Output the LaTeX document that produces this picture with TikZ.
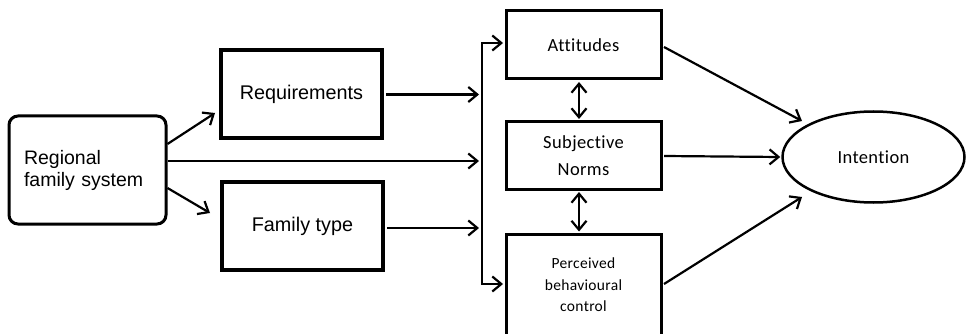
\documentclass[tikz,border=0pt]{standalone}
\usepackage{fontspec}
\newfontfamily\arialfont{Liberation Sans}
\newfontfamily\califont[Ligatures=NoCommon,LetterSpace=2]{Carlito}
\usetikzlibrary{arrows.meta,shapes.geometric,calc}
\begin{document}
\begin{tikzpicture}[x=1pt,y=-1pt,
  arr/.style={line width=2.2pt,-{Straight Barb[length=9pt,width=15pt]}},
  darr/.style={line width=2.2pt,{Straight Barb[length=9pt,width=15pt]}-{Straight Barb[length=9pt,width=15pt]}},
  leftbox/.style={draw,line width=4pt,minimum width=161pt,minimum height=88pt,font=\arialfont\fontsize{19.8}{22}\selectfont,align=center},
  rightbox/.style={draw,line width=3pt,minimum width=155pt,font=\califont\fontsize{18.5}{27}\selectfont,align=center}]
\useasboundingbox (0,0) rectangle (966,334);
\clip (0,0) rectangle (966,334);
\fill[white] (0,0) rectangle (966,334);
% source and mediators
\node[draw,line width=3pt,rounded corners=9pt,minimum width=157pt,minimum height=108pt,
      font=\arialfont\fontsize{19.5}{22}\selectfont,align=left,text width=127pt] (reg) at (87.5,170)
      {Regional\\family system};
\node[leftbox] (req) at (301.5,94.5) {Requirements};
\node[leftbox] (fam) at (302.5,226) {Family type};
% theory of planned behaviour constructs
\node[rightbox,minimum height=68pt] (att) at (583.5,45) {Attitudes};
\node[rightbox,minimum height=67pt] (sn) at (583.5,155.5) {Subjective\\Norms};
\node[rightbox,minimum height=108pt,anchor=north] (pbc) at (583.5,233) {};
\node[font=\califont\fontsize{15.5}{21.5}\selectfont,align=center] (pbct) at (583.5,285) {Perceived\\behavioural\\control};
\node[draw,ellipse,line width=2.5pt,minimum width=182pt,minimum height=91pt,
      font=\califont\fontsize{18.5}{22}\selectfont] (int) at (873.5,157) {Intention};
% collecting bar
\coordinate (bt) at (482,43);
\coordinate (bb) at (482,284);
\draw[darr,line join=miter] ($(bt-|att.west)+(-1.5,0)$) -- (bt) -- (bb) -- ($(bb-|pbc.west)+(-1.5,0)$);
% arrows into the bar
\draw[arr] ($(req.east)+(2,0)$) -- ($(req.east-|bt)+(-3,0)$);
\draw[arr] ($(reg.east)+(0,-9)$) -- ($(reg.east-|bt)+(-3,-9)$);
\draw[arr] ($(fam.east)+(2,2)$) -- ($(fam.east-|bt)+(-3,2)$);
% arrows from the regional family system
\draw[arr] ($(reg.east)+(0,-26)$) -- ($(req.west)+(-4,18.5)$);
\draw[arr] ($(reg.east)+(0,18)$) -- ($(fam.west)+(-10,-13)$);
% links between constructs
\draw[darr] ($(att.south)+(-4.5,1.5)$) -- ($(sn.north)+(-4.5,-1.5)$);
\draw[darr] ($(sn.south)+(-4.5,1.5)$) -- ($(pbc.north)+(-4.5,-1.5)$);
% arrows to intention
\draw[arr] ($(att.east)+(1.5,2)$) -- ($(int.center)+(-71.5,-36)$);
\draw[arr] ($(sn.east)+(1.5,0.5)$) -- ($(int.west)+(-1,0)$);
\draw[arr] ($(pbc.north east)+(1.5,51)$) -- ($(int.center)+(-71.5,40)$);
\end{tikzpicture}
\end{document}
